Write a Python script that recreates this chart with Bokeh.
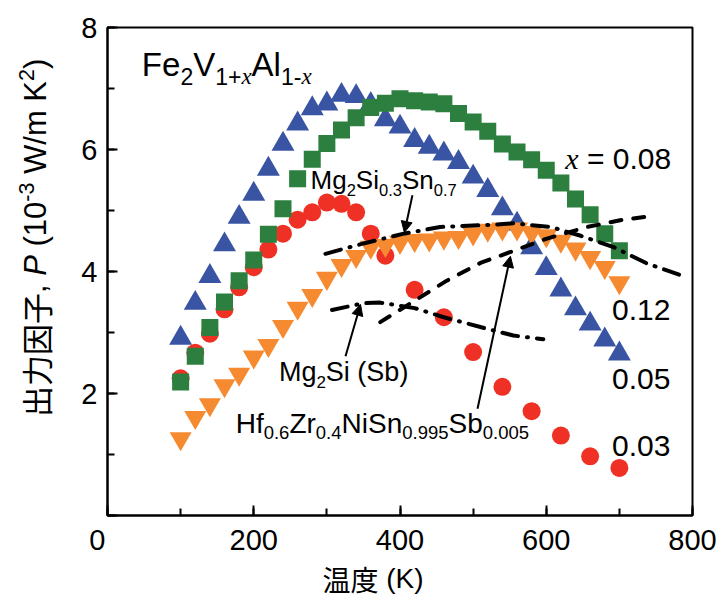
from math import pi
from bokeh.plotting import figure
from bokeh.layouts import row, column
from bokeh.models import Range1d, SingleIntervalTicker, Label, Arrow, NormalHead
from bokeh.embed import file_html
from bokeh.resources import INLINE

# ---------------- data ----------------
T_grid = list(range(100, 701, 20))
P_x005 = [2.91, 3.48, 3.92, 4.44, 4.89, 5.27, 5.68, 6.09, 6.42, 6.67, 6.75, 6.89, 6.87, 6.74, 6.49, 6.37,
          6.15, 6.04, 5.93, 5.79, 5.55, 5.33, 5.03, 4.78, 4.39, 4.05, 3.70, 3.39, 3.14, 2.88, 2.65]
P_x008 = [2.19, 2.61, 3.08, 3.50, 3.85, 4.19, 4.61, 5.03, 5.52, 5.84, 6.10, 6.32, 6.52, 6.69, 6.76, 6.83,
          6.80, 6.78, 6.75, 6.59, 6.45, 6.30, 6.09, 5.96, 5.83, 5.66, 5.45, 5.19, 4.93, 4.62, 4.34]
P_x012 = [1.26, 1.61, 1.82, 2.13, 2.32, 2.60, 2.79, 3.10, 3.40, 3.61, 3.89, 4.10, 4.25, 4.40, 4.43, 4.48,
          4.51, 4.52, 4.55, 4.56, 4.62, 4.68, 4.70, 4.70, 4.64, 4.59, 4.50, 4.37, 4.23, 4.07, 3.82]
T_x003 = [100, 120, 140, 160, 180, 200, 220, 240, 260, 280, 300, 320, 340, 360, 380,
          420, 460, 500, 540, 580, 620, 660, 700]
P_x003 = [2.25, 2.67, 2.98, 3.38, 3.74, 4.07, 4.36, 4.62, 4.85, 4.97, 5.13, 5.11, 4.97, 4.62, 4.26,
          3.70, 3.25, 2.68, 2.11, 1.71, 1.31, 0.97, 0.78]

T_mgsisn = [298, 350, 405, 455, 533, 555, 606, 646, 692, 738, 786]
P_mgsisn = [4.29, 4.46, 4.62, 4.73, 4.77, 4.79, 4.73, 4.59, 4.40, 4.13, 3.93]
T_mgsi = [307, 350, 373, 420, 460, 510, 555, 596]
P_mgsi = [3.37, 3.48, 3.49, 3.40, 3.25, 3.09, 2.95, 2.89]
T_hf = [373, 428, 464, 510, 551, 601, 656, 701, 738]
P_hf = [3.17, 3.58, 3.85, 4.14, 4.32, 4.54, 4.73, 4.84, 4.90]

# arrows: (x_start, y_start, x_end, y_end)
arrow_mgsisn = (417, 5.25, 406, 4.64)
arrow_mgsi = (325.5, 2.61, 346, 3.46)
arrow_hf = (506, 1.75, 551, 4.25)

C_RED = "#EE3124"
C_BLUE = "#3A54A4"
C_GREEN = "#2C7F3E"
C_ORANGE = "#F68A30"

SANS = "Liberation Sans"
SERIF = "Liberation Serif"
CJK = "Noto Sans CJK JP"
BASE_FIX = 0.38  # baseline correction (em)

# Arial advance widths (em)
AW = {' ': .278, '(': .333, ')': .333, '+': .584, '-': .333, '.': .278, ',': .278, '=': .584, '/': .278,
      'A': .667, 'F': .611, 'H': .722, 'K': .667, 'M': .833, 'N': .722, 'P': .667, 'S': .667, 'V': .667,
      'W': .944, 'Z': .611, 'a': .556, 'b': .556, 'e': .556, 'f': .278, 'g': .556, 'i': .222, 'l': .222,
      'm': .833, 'n': .556, 'r': .333}
for d in "0123456789":
    AW[d] = .556


def width(txt, kind):
    if kind in ("xi", "subxi"):
        return .444 * len(txt)
    if kind == "cjk":
        return 1.0 * len(txt)
    return sum(AW.get(c, .556) for c in txt)


def rich(fig, x, y, parts, size, sub_size, angle=0.0):
    cum = 0.0
    for txt, kind in parts:
        small = kind in ("sub", "sup", "subxi")
        fs = sub_size if small else size
        lead = len(txt) - len(txt.lstrip(" "))
        cum += lead * AW[' '] * fs
        txt = txt.lstrip(" ")
        font = SANS
        style = "normal"
        if kind in ("xi", "subxi"):
            font, style = SERIF, "italic"
        elif kind == "it":
            style = "italic"
        elif kind == "cjk":
            font = CJK
        shift = BASE_FIX * fs
        if kind in ("sub", "subxi"):
            shift -= 0.22 * size
        elif kind == "sup":
            shift += 0.40 * size
        if angle == 0:
            xo, yo = cum, shift
        else:
            xo, yo = -shift, cum
        fig.add_layout(Label(x=x, y=y, x_offset=xo, y_offset=yo, text=txt, angle=angle,
                             text_font=font, text_font_style=style, text_font_size=f"{fs}px",
                             text_color="black", text_align="left", text_baseline="alphabetic"))
        cum += width(txt, kind) * fs


def blank(w, h):
    f = figure(width=w, height=h, x_range=Range1d(0, w), y_range=Range1d(0, h), title=None,
               output_backend="svg", toolbar_location=None, min_border=0,
               x_axis_location=None, y_axis_location=None)
    f.grid.visible = False
    f.outline_line_color = None
    return f


p = figure(width=662, height=560, x_range=Range1d(0, 800), y_range=Range1d(0, 8), title=None,
           output_backend="svg", toolbar_location=None,
           min_border_left=47, min_border_right=30, min_border_top=27, min_border_bottom=45)
p.grid.visible = False
p.outline_line_color = "black"
p.outline_line_width = 2

p.xaxis.ticker = SingleIntervalTicker(interval=200, num_minor_ticks=2)
p.yaxis.ticker = SingleIntervalTicker(interval=2, num_minor_ticks=2)
p.yaxis.major_label_overrides = {0: ""}
p.xaxis.major_label_overrides = {0: "0\u2002\u2009"}
for ax in (p.xaxis, p.yaxis):
    ax.axis_line_width = 2
    ax.major_tick_in = 10
    ax.major_tick_out = 0
    ax.minor_tick_in = 7
    ax.minor_tick_out = 0
    ax.major_tick_line_width = 2
    ax.minor_tick_line_width = 2
    ax.major_label_text_font = SANS
    ax.major_label_text_font_size = "29px"
    ax.major_label_text_color = "black"
p.xaxis.major_label_standoff = 8
p.yaxis.major_label_standoff = 10

# markers
p.scatter(T_grid, P_x005, marker="triangle", size=23, fill_color=C_BLUE, line_color=None)
p.scatter(T_x003, P_x003, marker="circle", size=18, fill_color=C_RED, line_color=None)
p.scatter(T_grid, P_x008, marker="square", size=17, fill_color=C_GREEN, line_color=None)
p.scatter(T_grid, P_x012, marker="inverted_triangle", size=22, fill_color=C_ORANGE, line_color=None)

# reference curves
p.line(T_mgsisn, P_mgsisn, line_color="black", line_width=4, line_dash="16 9 1 9", line_cap="round")
p.line(T_mgsi, P_mgsi, line_color="black", line_width=4, line_dash="16 9 1 9", line_cap="round")
p.line(T_hf, P_hf, line_color="black", line_width=4, line_dash="11 12", line_cap="round")

for a in (arrow_mgsisn, arrow_mgsi, arrow_hf):
    p.add_layout(Arrow(x_start=a[0], y_start=a[1], x_end=a[2], y_end=a[3], line_width=2,
                       line_color="black",
                       end=NormalHead(size=11, fill_color="black", line_color="black")))

# texts
rich(p, 47, 7.18, [("Fe", "n"), ("2", "sub"), ("V", "n"), ("1+", "sub"), ("x", "subxi"),
                   ("Al", "n"), ("1-", "sub"), ("x", "subxi")], 33, 23)
rich(p, 626, 5.66, [("x", "xi"), (" = 0.08", "n")], 30, 21)
rich(p, 690, 3.19, [("0.12", "n")], 30, 21)
rich(p, 690, 2.05, [("0.05", "n")], 30, 21)
rich(p, 690, 0.956, [("0.03", "n")], 30, 21)
rich(p, 277.7, 5.33, [("Mg", "n"), ("2", "sub"), ("Si", "n"), ("0.3", "sub"), ("Sn", "n"), ("0.7", "sub")], 26, 16.5)
rich(p, 234.4, 2.185, [("Mg", "n"), ("2", "sub"), ("Si (Sb)", "n")], 27, 17)
rich(p, 175.3, 1.34, [("Hf", "n"), ("0.6", "sub"), ("Zr", "n"), ("0.4", "sub"), ("NiSn", "n"),
                      ("0.995", "sub"), ("Sb", "n"), ("0.005", "sub")], 28, 18.5)

# axis titles (separate strips so the rich text is not clipped)
ylab = blank(60, 560)
rich(ylab, 47, 560 - 447, [("出力因子", "cjk"), (", ", "n"), ("P", "it"), (" (10", "n"), ("-3", "sup"),
                           (" W/m K", "n"), ("2", "sup"), (")", "n")], 31, 21.5, angle=pi / 2)
xlab = blank(722, 41)
rich(xlab, 322, 12, [("温度", "cjk"), (" (K)", "n")], 28, 20)

layout = column(row(ylab, p), xlab)
open("out.html", "w").write(file_html(layout, INLINE))
